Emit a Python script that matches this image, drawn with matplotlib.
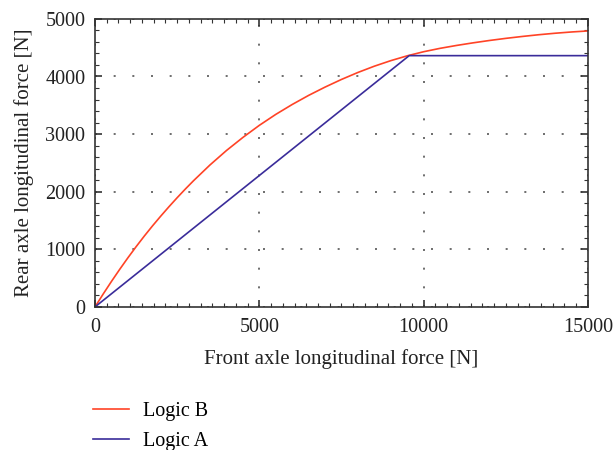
import matplotlib
matplotlib.use("Agg")
import matplotlib.pyplot as plt
from matplotlib.ticker import MultipleLocator

# front axle force [N] and rear axle force [N]
logic_b_x = [0, 250, 500, 750, 1000, 1250, 1500, 1750, 2000, 2250, 2500, 2750, 3000,
             3500, 4000, 4500, 5000, 5500, 6000, 6500, 7000, 7500, 8000, 8500,
             9000, 9500, 10000, 10500, 11000, 11500, 12000, 12500, 13000, 13500,
             14000, 14500, 15000]
logic_b_y = [0, 225, 442, 651, 852, 1045, 1230, 1407, 1576, 1739, 1896, 2047, 2192,
             2465, 2715, 2942, 3152, 3342, 3514, 3672, 3816, 3949, 4070, 4179,
             4275, 4359, 4430, 4489, 4539, 4584, 4625, 4662, 4695, 4725,
             4751, 4773, 4791]

logic_a_x = [0, 9560, 15000]
logic_a_y = [0, 4362, 4362]

x_ticks = [0, 5000, 10000, 15000]
y_ticks = [0, 1000, 2000, 3000, 4000, 5000]

plt.rcParams["font.family"] = ["Liberation Serif", "DejaVu Serif"]

fig = plt.figure(figsize=(6.15, 4.5), dpi=100)
ax = fig.add_axes([0.1545, 0.318, 0.8015, 0.640])

line_b, = ax.plot(logic_b_x, logic_b_y, color="#ff4326", lw=1.2, label="Logic B")
line_a, = ax.plot(logic_a_x, logic_a_y, color="#3a2c9a", lw=1.2, label="Logic A")

ax.set_xlim(0, 15000)
ax.set_ylim(0, 5000)
ax.set_xticks(x_ticks)
ax.set_yticks(y_ticks)
ax.xaxis.set_minor_locator(MultipleLocator(5000 / 14))
ax.yaxis.set_minor_locator(MultipleLocator(200))
ax.tick_params(which="both", direction="in", top=True, right=True,
               colors="#333333", labelcolor="#222222", labelsize=14.5)
ax.tick_params(axis="x", which="major", pad=8)
ax.tick_params(axis="y", which="major", pad=7)
ax.tick_params(which="major", length=5, width=1.2)
ax.tick_params(which="minor", length=3, width=0.8)
for s in ax.spines.values():
    s.set_color("#333333")
    s.set_linewidth(1.2)

ax.grid(True, which="major", color="#555555", lw=1.2, linestyle=(0, (1.2, 10)))

ax.set_xlabel("Front axle longitudinal force [N]", fontsize=15, color="#222222", labelpad=9)
ax.set_ylabel("Rear axle longitudinal force [N]", fontsize=15, color="#222222", labelpad=8)

fig.legend(handles=[line_b, line_a], loc="upper left", bbox_to_anchor=(0.152, 0.107),
           frameon=False, fontsize=14.5, handlelength=1.75, handletextpad=0.7,
           labelspacing=0.55, borderaxespad=0, borderpad=0)

fig.savefig("out.png", dpi=100)
